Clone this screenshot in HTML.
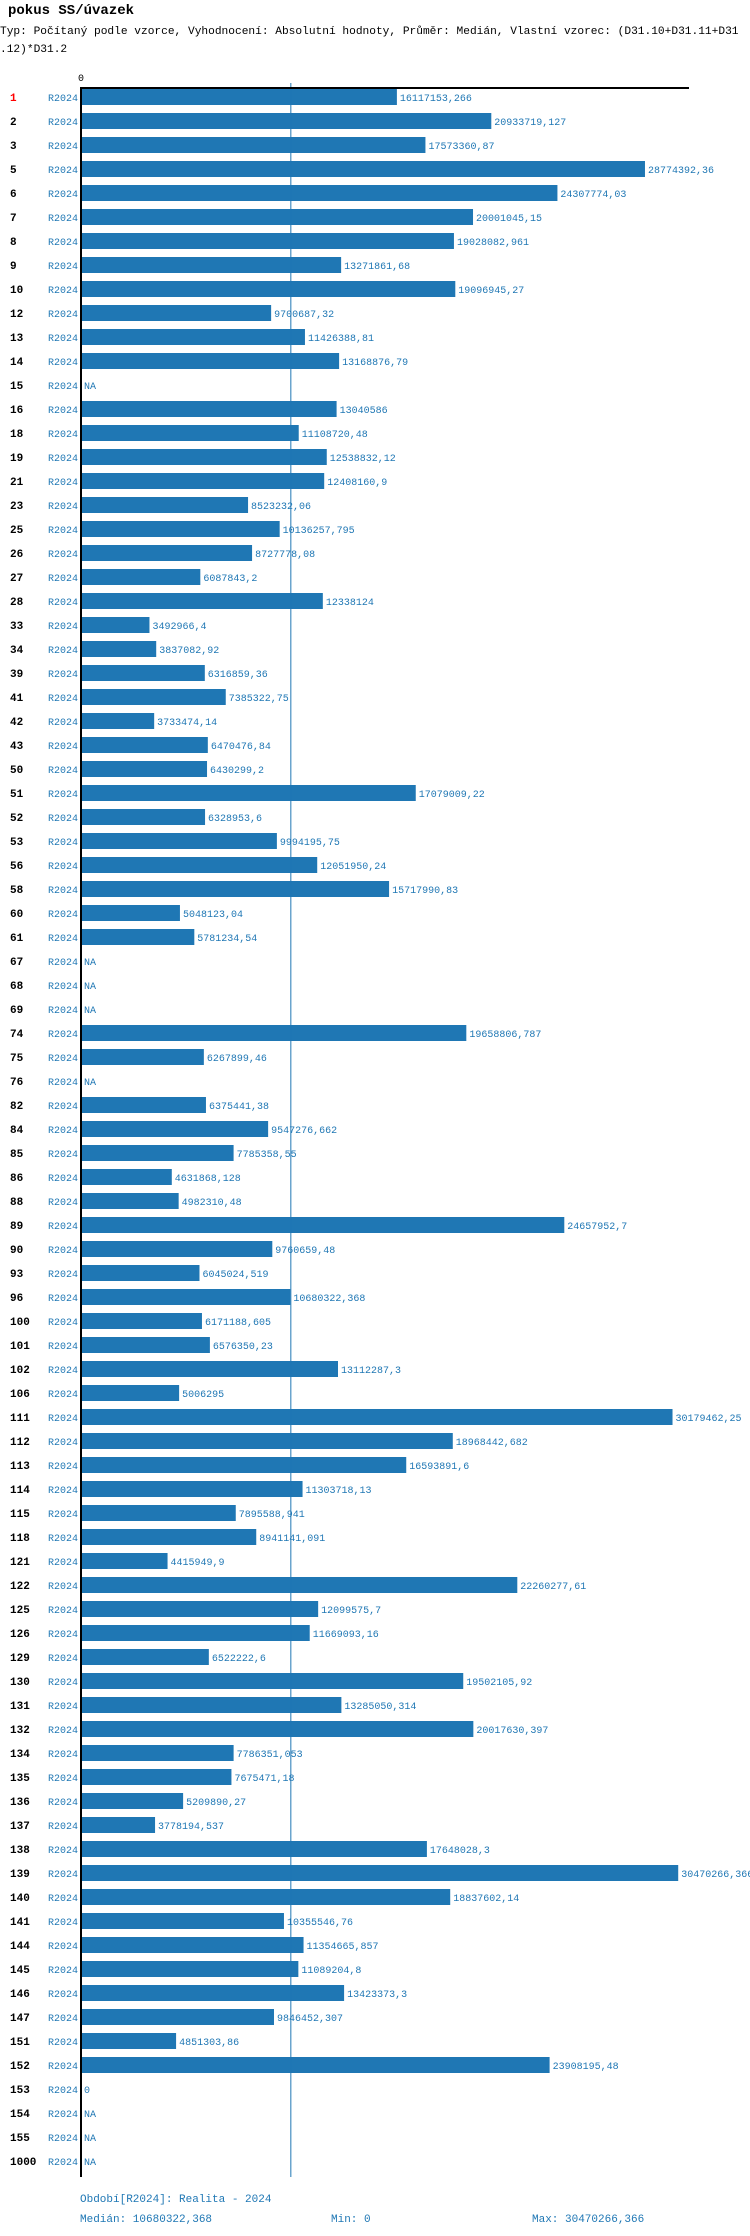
<!DOCTYPE html>
<html><head><meta charset="utf-8"><style>
html,body{margin:0;padding:0;background:#fff;width:750px;height:2236px;overflow:hidden}
svg text{font-family:"Liberation Mono",monospace}
</style></head><body>
<svg id="chart" width="750" height="2236" viewBox="0 0 750 2236" xmlns="http://www.w3.org/2000/svg">
<text x="8" y="14" font-size="14" font-weight="bold" fill="#000">pokus SS/úvazek</text>
<text x="0" y="34" font-size="11.2" fill="#000">Typ: Počítaný podle vzorce, Vyhodnocení: Absolutní hodnoty, Průměr: Medián, Vlastní vzorec: (D31.10+D31.11+D31</text>
<text x="0" y="52" font-size="11.2" fill="#000">.12)*D31.2</text>
<text x="78" y="81" font-size="10" fill="#000">0</text>
<g id="rows"></g>
<line id="med" x1="290.5" y1="83" x2="290.5" y2="2177" stroke="#1f77b4" stroke-width="1"/>
<line x1="80" y1="88" x2="689" y2="88" stroke="#000" stroke-width="2"/>
<line x1="81" y1="87" x2="81" y2="2177" stroke="#000" stroke-width="2"/>
<text x="80" y="2202" font-size="11" fill="#1f77b4">Období[R2024]: Realita - 2024</text>
<text x="80" y="2222" font-size="11" fill="#1f77b4">Medián: 10680322,368</text>
<text x="331" y="2222" font-size="11" fill="#1f77b4">Min: 0</text>
<text x="532" y="2222" font-size="11" fill="#1f77b4">Max: 30470266,366</text>
</svg>
<script>
const categories=["1","2","3","5","6","7","8","9","10","12","13","14","15","16","18","19","21","23","25","26","27","28","33","34","39","41","42","43","50","51","52","53","56","58","60","61","67","68","69","74","75","76","82","84","85","86","88","89","90","93","96","100","101","102","106","111","112","113","114","115","118","121","122","125","126","129","130","131","132","134","135","136","137","138","139","140","141","144","145","146","147","151","152","153","154","155","1000"];
const values=[16117153.266,20933719.127,17573360.87,28774392.36,24307774.03,20001045.15,19028082.961,13271861.68,19096945.27,9700687.32,11426388.81,13168876.79,null,13040586,11108720.48,12538832.12,12408160.9,8523232.06,10136257.795,8727778.08,6087843.2,12338124,3492966.4,3837082.92,6316859.36,7385322.75,3733474.14,6470476.84,6430299.2,17079009.22,6328953.6,9994195.75,12051950.24,15717990.83,5048123.04,5781234.54,null,null,null,19658806.787,6267899.46,null,6375441.38,9547276.662,7785358.55,4631868.128,4982310.48,24657952.7,9760659.48,6045024.519,10680322.368,6171188.605,6576350.23,13112287.3,5006295,30179462.25,18968442.682,16593891.6,11303718.13,7895588.941,8941141.091,4415949.9,22260277.61,12099575.7,11669093.16,6522222.6,19502105.92,13285050.314,20017630.397,7786351.053,7675471.18,5209890.27,3778194.537,17648028.3,30470266.366,18837602.14,10355546.76,11354665.857,11089204.8,13423373.3,9846452.307,4851303.86,23908195.48,0,null,null,null];
const median=10680322.368;
const NS="http://www.w3.org/2000/svg";
const x0=81, pxPerUnit=19.6/1e6, y0=97, pitch=24;
function xs(v){return x0+v*pxPerUnit;}
function ys(i){return y0+i*pitch;}
document.getElementById('med').setAttribute('x1',xs(median)+0.5);
document.getElementById('med').setAttribute('x2',xs(median)+0.5);
const g=document.getElementById('rows');
function mk(tag,attrs){const e=document.createElementNS(NS,tag);for(const k in attrs)e.setAttribute(k,attrs[k]);return e;}
categories.forEach((c,i)=>{
  const cy=ys(i);
  const lab=mk('text',{x:10,y:cy+4,'font-size':11,'font-weight':'bold',fill:i===0?'#ff0000':'#000'});
  
  
  lab.textContent=c;g.appendChild(lab);
  const per=mk('text',{x:48,y:cy+4,'font-size':10,fill:'#1f77b4'});
  
  
  per.textContent='R2024';g.appendChild(per);
  const v=values[i];
  let endX=x0+3;
  if(v!==null&&v>0){
    const r=mk('rect',{x:x0,y:cy-8,width:xs(v)-x0,height:16,fill:'#1f77b4'});
    
    
    g.appendChild(r);endX=xs(v)+3;
  }
  const t=mk('text',{x:endX,y:cy+4,'font-size':10,fill:'#1f77b4'});
  
  
  t.textContent=v===null?'NA':String(v).replace('.',',');
  g.appendChild(t);
});
</script>
</body></html>
